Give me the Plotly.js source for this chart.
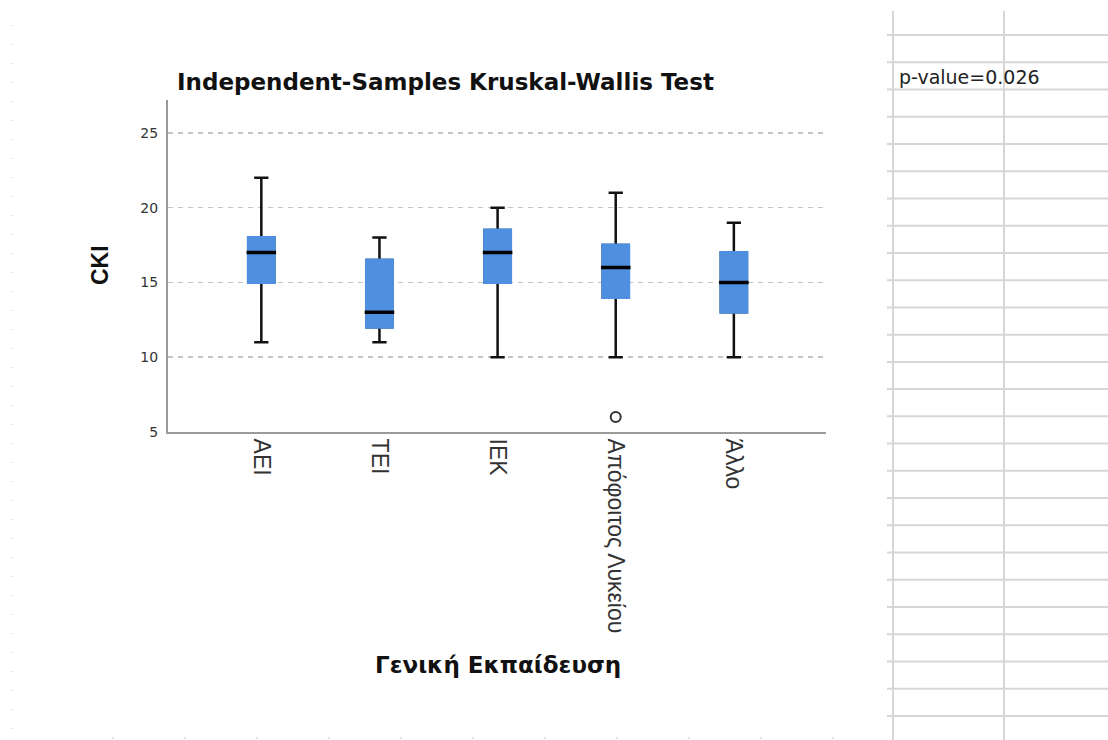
<!DOCTYPE html>
<html>
<head>
<meta charset="utf-8">
<script src="https://cdn.plot.ly/plotly-3.0.1.min.js"></script>
<style>
  html, body { margin: 0; padding: 0; background: #ffffff; }
  #chart { width: 1108px; height: 740px; }
</style>
</head>
<body>
<div id="chart"></div>
<script>
// Group labels (General education level)
const categories = ['ΑΕΙ', 'ΤΕΙ', 'ΙΕΚ', 'Απόφοιτος Λυκείου', 'Άλλο'];

// Box statistics of CKI per group
const lowerWhisker = [11, 11, 10, 10, 10];
const q1Values     = [15, 12, 15, 14, 13];
const medianValues = [17, 13, 17, 16, 15];
const q3Values     = [18, 16.5, 18.5, 17.5, 17];
const upperWhisker = [22, 18, 20, 21, 19];

// Outlying observations
const outlierGroups = ['Απόφοιτος Λυκείου'];
const outlierValues = [6];

// Axis ticks
const yTicks = [5, 10, 15, 20, 25];

// Text
const chartTitle = 'Independent-Samples Kruskal-Wallis Test';
const yTitle = 'CKI';
const xTitle = 'Γενική Εκπαίδευση';
const pValueText = 'p-value=0.026';

// Page geometry
const W = 1108, H = 740;
const M = { l: 168, r: 282, t: 100, b: 308 };
const plotW = W - M.l - M.r, plotH = H - M.t - M.b;
const px2x = px => (px - M.l) / plotW;
const px2y = py => (H - M.b - py) / plotH;

const boxBlue = '#4f8fe0';
const noFill = 'rgba(0,0,0,0)';

// Whiskers and caps (black)
const whiskers = {
  type: 'box', x: categories,
  q1: q1Values, median: medianValues, q3: q3Values,
  lowerfence: lowerWhisker, upperfence: upperWhisker,
  width: 0.22, whiskerwidth: 0.55,
  line: { color: '#111111', width: 2.5 },
  fillcolor: noFill, boxpoints: false, hoverinfo: 'skip', showlegend: false
};
// Filled interquartile box
const boxes = {
  type: 'box', x: categories,
  q1: q1Values, median: medianValues, q3: q3Values,
  lowerfence: q1Values, upperfence: q3Values,
  width: 0.22, whiskerwidth: 0,
  line: { color: boxBlue, width: 3 },
  fillcolor: boxBlue, boxpoints: false, hoverinfo: 'skip', showlegend: false
};
// Median bars
const medians = {
  type: 'box', x: categories,
  q1: medianValues, median: medianValues, q3: medianValues,
  lowerfence: medianValues, upperfence: medianValues,
  width: 0.25, whiskerwidth: 0,
  line: { color: '#000000', width: 3.5 },
  fillcolor: noFill, boxpoints: false, hoverinfo: 'skip', showlegend: false
};
const outliers = {
  type: 'scatter', mode: 'markers', x: outlierGroups, y: outlierValues,
  marker: { symbol: 'circle-open', size: 10, color: '#333333', line: { width: 2, color: '#333333' } },
  hoverinfo: 'skip', showlegend: false
};

// Spreadsheet-style grid on the right-hand side
const sheetCols = [893, 1004];
const sheetRowStart = 35, sheetRowStep = 27.24, sheetRowCount = 26;
const shapes = [];
sheetCols.forEach(cx => shapes.push({
  type: 'line', xref: 'paper', yref: 'paper',
  x0: px2x(cx), x1: px2x(cx), y0: px2y(11), y1: px2y(H),
  line: { color: '#d6d6d6', width: 2 }
}));
for (let k = 0; k < sheetRowCount; k++) {
  const ry = sheetRowStart + k * sheetRowStep;
  shapes.push({
    type: 'line', xref: 'paper', yref: 'paper',
    x0: px2x(887), x1: px2x(W), y0: px2y(ry), y1: px2y(ry),
    line: { color: '#d6d6d6', width: 2 }
  });
}
// Faint dotted page edges
shapes.push({
  type: 'line', xref: 'paper', yref: 'paper',
  x0: px2x(12), x1: px2x(12), y0: px2y(25), y1: px2y(H),
  line: { color: '#c4c4c4', width: 1, dash: '1px,18px' }
});
shapes.push({
  type: 'line', xref: 'paper', yref: 'paper',
  x0: px2x(112), x1: px2x(886), y0: px2y(738), y1: px2y(738),
  line: { color: '#c4c4c4', width: 1, dash: '2px,70px' }
});

const annotations = [
  { text: chartTitle, xref: 'paper', yref: 'paper', x: px2x(175), y: px2y(82),
    xanchor: 'left', yanchor: 'middle', showarrow: false,
    font: { family: 'DejaVu Sans', size: 23, weight: 'bold', color: '#111111' } },
  { text: yTitle, xref: 'paper', yref: 'paper', x: px2x(100), y: px2y(265),
    xanchor: 'center', yanchor: 'middle', textangle: -90, showarrow: false,
    font: { family: 'Liberation Sans', size: 23, weight: 'bold', color: '#111111' } },
  { text: xTitle, xref: 'paper', yref: 'paper', x: px2x(498), y: px2y(665),
    xanchor: 'center', yanchor: 'middle', showarrow: false,
    font: { family: 'DejaVu Sans', size: 23, weight: 'bold', color: '#111111' } },
  { text: pValueText, xref: 'paper', yref: 'paper', x: px2x(897), y: px2y(77),
    xanchor: 'left', yanchor: 'middle', showarrow: false,
    font: { family: 'DejaVu Sans', size: 19, color: '#222222' } }
];

const layout = {
  width: W, height: H,
  margin: M,
  paper_bgcolor: '#ffffff', plot_bgcolor: '#ffffff',
  boxmode: 'overlay',
  showlegend: false,
  xaxis: {
    type: 'category', categoryorder: 'array', categoryarray: categories,
    range: [-0.79, 4.78],
    showline: true, linecolor: '#9a9a9a', linewidth: 2,
    showgrid: false, zeroline: false, ticks: '',
    tickangle: 90,
    tickfont: { family: 'Liberation Sans', size: 23, color: '#333333' },
    automargin: false
  },
  yaxis: {
    range: [5, 27.2], tickvals: yTicks,
    showline: true, linecolor: '#9a9a9a', linewidth: 2,
    showgrid: true, gridcolor: '#c4c4c4', gridwidth: 1.5, griddash: '5px,5px',
    zeroline: false, ticks: '', ticklabelstandoff: 5,
    tickfont: { family: 'DejaVu Sans', size: 14, color: '#333333' },
    automargin: false
  },
  shapes: shapes,
  annotations: annotations
};

Plotly.newPlot('chart', [whiskers, boxes, medians, outliers], layout, { displayModeBar: false, staticPlot: true });
</script>
</body>
</html>
